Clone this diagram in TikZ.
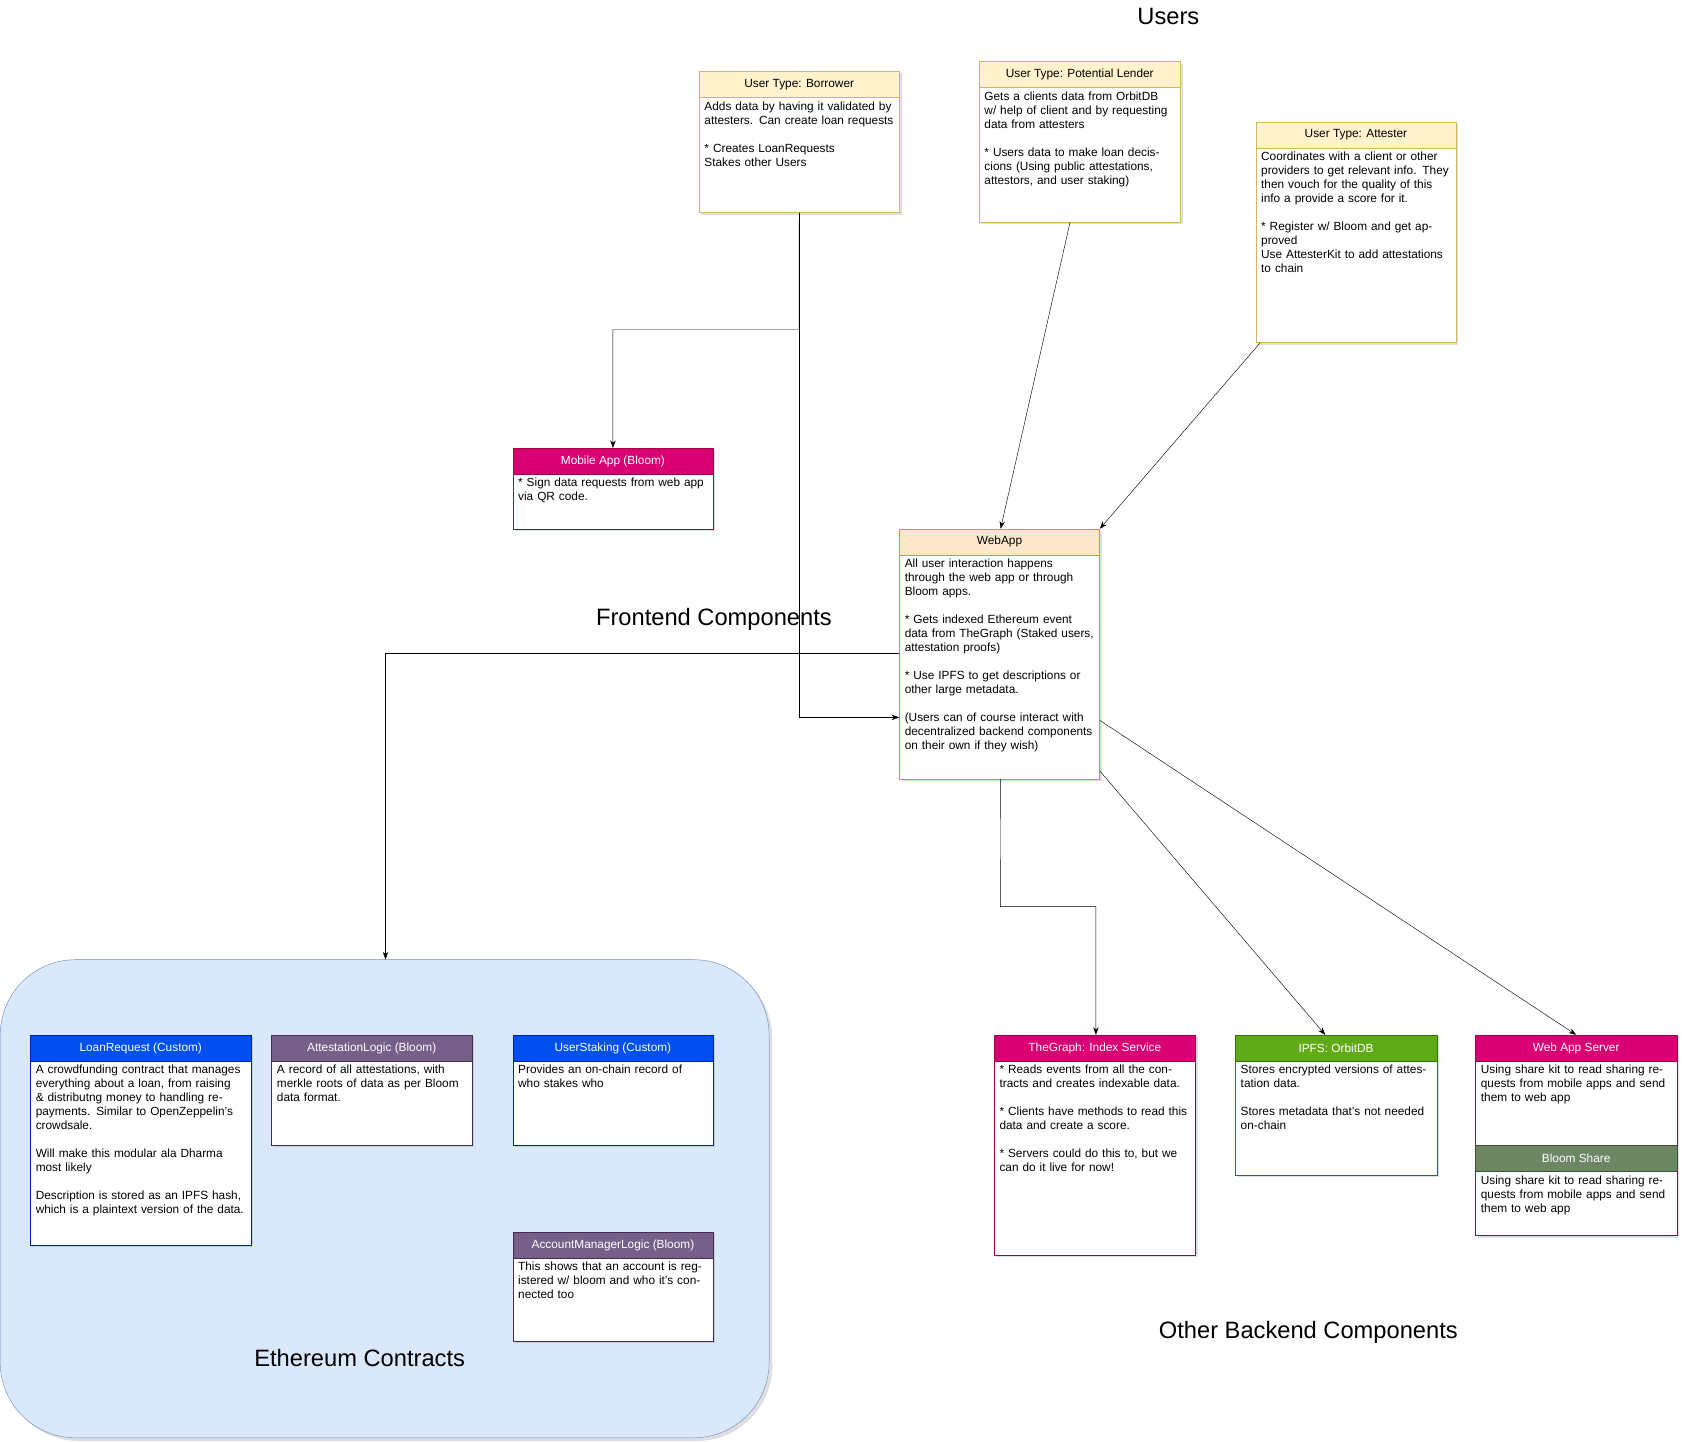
\documentclass[tikz,border=0pt]{standalone}
\usepackage{fontspec}
\setmainfont{Liberation Sans}
\usetikzlibrary{shadows,arrows.meta}
\newcommand\ubox[9]{% name x y w h fill stroke title body
  \node[draw=#7,fill=white,anchor=north west,minimum width=#4pt,minimum height=#5pt,inner sep=0,drop shadow={opacity=0.25,shadow xshift=2pt,shadow yshift=-2pt}] (#1) at (#2,#3) {};
  \node[draw=#7,fill=#6,anchor=north west,minimum width=#4pt,minimum height=24pt,inner sep=0] (#1h) at (#2,#3) {};
  \node[hd] (#1t) at (#1h.center) {#8};
  \node[bd,text width=#4pt-10pt] (#1b) at ([xshift=5pt,yshift=-28pt]#1.north west) {#9};
}
\definecolor{yel}{HTML}{FFF2CC}\definecolor{yels}{HTML}{D6B656}
\definecolor{mag}{HTML}{D80073}\definecolor{mags}{HTML}{A50040}
\definecolor{org}{HTML}{FFE6CC}\definecolor{orgs}{HTML}{D79B00}
\definecolor{blu}{HTML}{0050EF}\definecolor{blus}{HTML}{001DBC}
\definecolor{pur}{HTML}{76608A}\definecolor{purs}{HTML}{432D57}
\definecolor{grn}{HTML}{60A917}\definecolor{grns}{HTML}{2D7600}
\definecolor{sgr}{HTML}{6D8764}\definecolor{sgrs}{HTML}{3A5431}
\definecolor{ebg}{HTML}{DAE8FC}\definecolor{ebs}{HTML}{6C8EBF}
\begin{document}
\begin{tikzpicture}[x=1pt,y=-1pt,
  hd/.style={font=\fontsize{11}{13}\selectfont,text=white,inner sep=0},
  hdk/.style={font=\fontsize{11}{13}\selectfont,text=black,inner sep=0},
  bd/.style={font=\fontsize{11}{13}\selectfont,anchor=north west,align=left,inner sep=0},
  big/.style={font=\fontsize{22}{26}\selectfont},
  arr/.style={-{Stealth[length=7pt,width=5pt]},black}]
\useasboundingbox (0,0) rectangle (1562,1339);
% Ethereum container
\node[draw=ebs,fill=ebg,rounded corners=70pt,anchor=north west,minimum width=714pt,minimum height=444pt,inner sep=0,drop shadow={opacity=0.25,shadow xshift=3pt,shadow yshift=-3pt}] (eth) at (0,891) {};
\node[big] (lusers) at (1085,15) {Users};
\node[big] (lfront) at (663,575) {Frontend Components};
\node[big] (leth) at (334,1261) {Ethereum Contracts};
\node[big] (lback) at (1215,1237) {Other Backend Components};
% user boxes
\ubox{bor}{649}{66}{186}{131}{yel}{yels}{\color{black}User Type: Borrower}{Adds data by having it validated by attesters. Can create loan requests\\[13pt]* Creates LoanRequests\\* Stakes other Users}
\ubox{len}{909}{57}{187}{149}{yel}{yels}{\color{black}User Type: Potential Lender}{Gets a clients data from OrbitDB w/ help of client and by requesting data from attesters\\[13pt]* Users data to make loan deciscions (Using public attestations, attestors, and user staking)}
\ubox{att}{1166}{113}{186}{205}{yel}{yels}{\color{black}User Type: Attester}{Coordinates with a client or other providers to get relevant info. They then vouch for the quality of this info a provide a score for it.\\[13pt]* Register w/ Bloom and get approved\\* Use AttesterKit to add attestations to chain}
\ubox{mob}{476}{416}{186}{75}{mag}{mags}{Mobile App (Bloom)}{* Sign data requests from web app via QR code.}
\ubox{web}{835}{491}{186}{232}{org}{orgs}{\color{black}WebApp}{All user interaction happens through the web app or through Bloom apps.\\[13pt]* Gets indexed Ethereum event data from TheGraph (Staked users, attestation proofs)\\[13pt]* Use IPFS to get descriptions or other large metadata.\\[13pt](Users can of course interact with decentralized backend components on their own if they wish)}
% contracts
\ubox{loan}{28}{961}{205}{195}{blu}{blus}{LoanRequest (Custom)}{A crowdfunding contract that manages everything about a loan, from raising \& distributng money to handling repayments. Similar to OpenZeppelin's crowdsale.\\[13pt]Will make this modular ala Dharma most likely\\[13pt]Description is stored as an IPFS hash, which is a plaintext version of the data.}
\ubox{alog}{252}{961}{186}{102}{pur}{purs}{AttestationLogic (Bloom)}{A record of all attestations, with merkle roots of data as per Bloom data format.}
\ubox{ust}{476}{961}{186}{102}{blu}{blus}{UserStaking (Custom)}{Provides an on-chain record of who stakes who}
\ubox{acc}{476}{1144}{186}{101}{pur}{purs}{AccountManagerLogic (Bloom)}{This shows that an account is registered w/ bloom and who it's connected too}
% backend
\ubox{tg}{923}{961}{187}{204}{mag}{mags}{TheGraph: Index Service}{* Reads events from all the contracts and creates indexable data.\\[13pt]* Clients have methods to read this data and create a score.\\[13pt]* Servers could do this to, but we can do it live for now!}
\ubox{ipfs}{1147}{961}{187}{130}{grn}{grns}{IPFS: OrbitDB}{Stores encrypted versions of attestation data.\\[13pt]Stores metadata that's not needed on-chain}
\ubox{was}{1370}{961}{187}{186}{mag}{mags}{Web App Server}{Using share kit to read sharing requests from mobile apps and send them to web app}
\node[draw=sgrs,fill=sgr,anchor=north west,minimum width=187pt,minimum height=24pt,inner sep=0] (bsh) at (1370,1063) {};
\node[hd] (bsht) at (bsh.center) {Bloom Share};
\node[bd,text width=177pt] (bshb) at (1375,1092) {Using share kit to read sharing requests from mobile apps and send them to web app};
% connectors
\coordinate (j1) at (742,306);
\draw[arr] (bor.south) -- (j1) -| (mob.north);
\draw[arr] (bor.south) |- ([yshift=-59pt]web.west);
\draw[arr] ([xshift=-9pt]len.south) -- ([xshift=1pt]web.north);
\draw[arr] ([xshift=-89pt]att.south) -- (web.north east);
\draw[arr] ([yshift=-116pt]web.north west) -| (eth.north -| 358,0);
\coordinate (j2) at (929,842);
\draw[arr] ([xshift=1pt]web.south) -- (j2) -| ([xshift=1pt]tg.north);
\draw[arr] ([yshift=-225pt]web.north east) -- ([xshift=-10pt]ipfs.north);
\draw[arr] ([yshift=-178pt]web.north east) -- (was.north);
\end{tikzpicture}
\end{document}
